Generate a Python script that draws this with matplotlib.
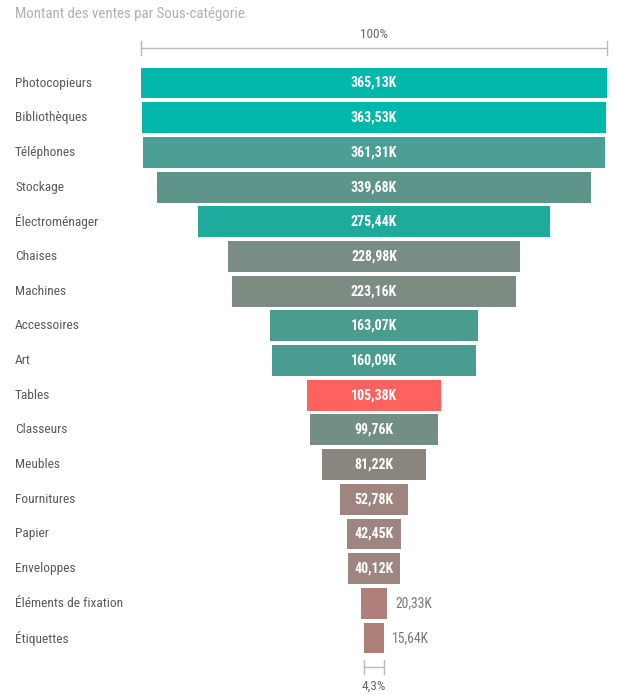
import matplotlib
matplotlib.use("Agg")
import matplotlib.pyplot as plt
from matplotlib import font_manager as fm
from matplotlib.transforms import blended_transform_factory

categories = ["Photocopieurs", "Bibliothèques", "Téléphones", "Stockage", "Électroménager",
              "Chaises", "Machines", "Accessoires", "Art", "Tables", "Classeurs", "Meubles",
              "Fournitures", "Papier", "Enveloppes", "Éléments de fixation", "Étiquettes"]
values = [365.13, 363.53, 361.31, 339.68, 275.44, 228.98, 223.16, 163.07, 160.09, 105.38,
          99.76, 81.22, 52.78, 42.45, 40.12, 20.33, 15.64]
labels = ["365,13K", "363,53K", "361,31K", "339,68K", "275,44K", "228,98K", "223,16K",
          "163,07K", "160,09K", "105,38K", "99,76K", "81,22K", "52,78K", "42,45K", "40,12K",
          "20,33K", "15,64K"]
colors = ["#01B8AA", "#01B8AA", "#4C9F94", "#5E9489", "#1EAB9C", "#7A8D84", "#7E8B83",
          "#4A9C8F", "#4A9C90", "#FD625E", "#738E84", "#8A857D", "#9E8580", "#9E8580",
          "#9E8580", "#AF7F79", "#AF7F79"]
title = "Montant des ventes par Sous-catégorie"
top_pct = "100%"
bottom_pct = "4,3%"

names = {f.name for f in fm.fontManager.ttflist}
fam = "DejaVu Sans"
for cand in ["Roboto Condensed", "Liberation Sans Narrow", "Roboto"]:
    if cand in names:
        fam = cand
        break

W, H = 617, 695
fig = plt.figure(figsize=(W / 100, H / 100), dpi=100)
ax = fig.add_axes([0, 0, 1, 1])
ax.set_axis_off()

scale = 466 / max(values)  # px per unit
cx = 374
ax.set_xlim(-cx / scale, (W - cx) / scale)
row = 34.69
y0 = 83
ax.set_ylim((H - y0) / row, -y0 / row)

n = len(values)
ys = list(range(n))
ax.barh(ys, values, left=[-v / 2 for v in values], height=0.89, color=colors, edgecolor="none")

for i, (v, lab) in enumerate(zip(values, labels)):
    if v * scale > 45:
        ax.text(0, i, lab, ha="center", va="center", color="white", fontsize=10,
                fontweight="bold", family=fam)
    else:
        ax.text(v / 2 + 8 / scale, i, lab, ha="left", va="center", color="#777777",
                fontsize=9.8, family=fam)

tr = blended_transform_factory(ax.transAxes, ax.transData)
for i, c in enumerate(categories):
    ax.text(15 / W, i, c, ha="left", va="center", color="#5A5A5A", fontsize=9.6,
            family=fam, transform=tr)

fig.text(15 / W, 1 - 14 / H, title, ha="left", va="center", color="#B0B0B0",
         fontsize=10.7, family=fam)

# top bracket
vmax = max(values)
yb = -(y0 - 48) / row
th = 7 / row
ax.plot([-vmax / 2, vmax / 2], [yb, yb], color="#BBBBBB", lw=1)
for s in (-1, 1):
    ax.plot([s * vmax / 2] * 2, [yb - th, yb + th], color="#BBBBBB", lw=1)
ax.text(0, -(y0 - 35) / row, top_pct, ha="center", va="center", color="#666666",
        fontsize=9.5, family=fam)

# bottom bracket
vmin = values[-1]
yb2 = (667 - y0) / row
ax.plot([-vmin / 2, vmin / 2], [yb2, yb2], color="#BBBBBB", lw=1)
for s in (-1, 1):
    ax.plot([s * vmin / 2] * 2, [yb2 - th, yb2 + th], color="#BBBBBB", lw=1)
ax.text(0, (686 - y0) / row, bottom_pct, ha="center", va="center", color="#666666",
        fontsize=9.5, family=fam)

fig.savefig("out.png", dpi=100, facecolor="white")
